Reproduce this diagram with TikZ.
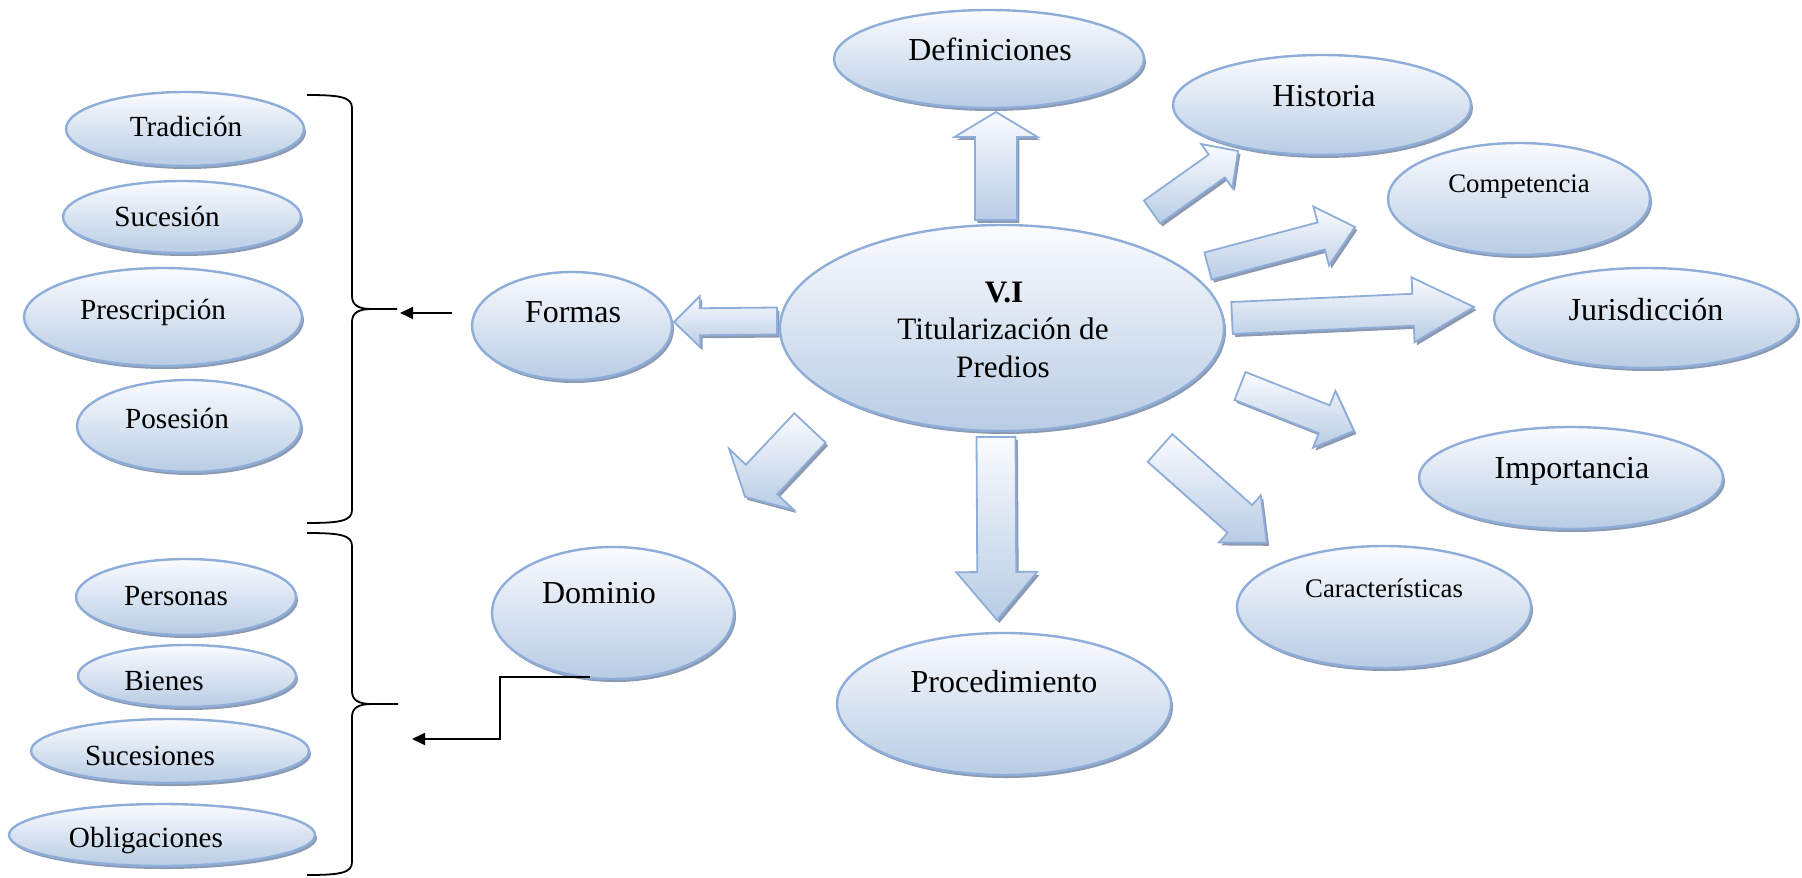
\documentclass[tikz,border=0pt]{standalone}
\usepackage{fontspec}
\setmainfont{Liberation Serif}
\usetikzlibrary{shapes.geometric,shadows,arrows.meta}

\definecolor{edgeblue}{RGB}{143,173,217}
\definecolor{fillTop}{RGB}{250,251,254}
\definecolor{fillBot}{RGB}{184,204,228}
\definecolor{shadowc}{RGB}{140,154,177}

\tikzset{
  bubble/.style={ellipse, draw=edgeblue, line width=1.2pt, top color=fillTop, bottom color=fillBot,
    inner sep=0pt, general shadow={fill=shadowc, shadow xshift=1pt, shadow yshift=-1.5pt}},
  txt/.style={anchor=base, inner sep=0pt, font=\fontsize{16}{18}\selectfont},
  txtleft/.style={txt, font=\fontsize{14.6}{17}\selectfont},
  txtsmall/.style={txt, font=\fontsize{13.4}{16}\selectfont},
  txtcore/.style={txt, font=\fontsize{15.6}{18}\selectfont},
  bodyarrow/.style={draw=edgeblue, line width=0.9pt, line join=miter, top color=fillTop, bottom color=fillBot},
  arrowshade/.style={fill=shadowc, transform canvas={shift={(1.2pt,-1.5pt)}}},
  brace/.style={draw=black, line width=0.9pt},
  link/.style={draw=black, line width=0.9pt, -{Triangle[length=6.5pt,width=6pt]}},
}

% block arrow: tail, tip, shaft width, head width, head length (pt)
\newcommand\blockarrow[5]{%
  \pgfpointanchor{#1}{center}\pgfgetlastxy{\bax}{\bay}%
  \pgfpointanchor{#2}{center}\pgfgetlastxy{\bbx}{\bby}%
  \pgfmathsetmacro\baang{atan2(\bby-\bay,\bbx-\bax)}%
  \pgfmathsetmacro\balen{veclen(\bbx-\bax,\bby-\bay)}%
  \pgfmathsetmacro\bab{\balen-#5}%
  \pgfmathsetmacro\baw{#3/2}%
  \pgfmathsetmacro\bah{#4/2}%
  \begin{scope}[shift={(#1)}, rotate=\baang]
    \coordinate (ba1) at (0pt,\baw pt);
    \coordinate (ba2) at (\bab pt,\baw pt);
    \coordinate (ba3) at (\bab pt,\bah pt);
    \coordinate (ba4) at (\balen pt,0pt);
    \coordinate (ba5) at (\bab pt,-\bah pt);
    \coordinate (ba6) at (\bab pt,-\baw pt);
    \coordinate (ba7) at (0pt,-\baw pt);
  \end{scope}
  \fill[arrowshade] (ba1) -- (ba2) -- (ba3) -- (ba4) -- (ba5) -- (ba6) -- (ba7) -- cycle;
  \path[bodyarrow] (ba1) -- (ba2) -- (ba3) -- (ba4) -- (ba5) -- (ba6) -- (ba7) -- cycle;
}

\begin{document}
\begin{tikzpicture}[x=0.5pt, y=-0.5pt]
\useasboundingbox (0,0) rectangle (1802,877);

% ---- block arrows around the central idea ----
\coordinate (def-t) at (996,220);   \coordinate (def-h) at (996,112);
\coordinate (for-t) at (777,321);   \coordinate (for-h) at (674,322);
\coordinate (his-t) at (1152,212);  \coordinate (his-h) at (1238,151);
\coordinate (com-t) at (1208,266);  \coordinate (com-h) at (1355,227);
\coordinate (jur-t) at (1232,318);  \coordinate (jur-h) at (1474,307);
\coordinate (imp-t) at (1240,386);  \coordinate (imp-h) at (1354,431);
\coordinate (car-t) at (1160,448);  \coordinate (car-h) at (1267,543);
\coordinate (pro-t) at (996,437);   \coordinate (pro-h) at (997,620);
\coordinate (dom-t) at (810,428);   \coordinate (dom-h) at (745,497);

\blockarrow{def-t}{def-h}{21}{41.5}{12.5}
\blockarrow{for-t}{for-h}{13.5}{25.5}{13}
\blockarrow{his-t}{his-h}{14}{27}{13}
\blockarrow{com-t}{com-h}{14}{30.5}{17.5}
\blockarrow{jur-t}{jur-h}{16}{32.5}{30.5}
\blockarrow{imp-t}{imp-h}{15}{30.5}{16}
\blockarrow{car-t}{car-h}{18.5}{31.5}{18}
\blockarrow{pro-t}{pro-h}{19.5}{40.5}{24}
\blockarrow{dom-t}{dom-h}{21.5}{44.5}{12}

% ---- ellipses ----
\node[bubble, minimum width=119pt, minimum height=37pt] (trad) at (185,129) {};
\node[bubble, minimum width=119pt, minimum height=36pt] (suc)  at (182,217) {};
\node[bubble, minimum width=139pt, minimum height=49pt] (pres) at (163,317) {};
\node[bubble, minimum width=112pt, minimum height=46pt] (pos)  at (189,426) {};
\node[bubble, minimum width=110pt, minimum height=38pt] (pers) at (186,597) {};
\node[bubble, minimum width=109pt, minimum height=31pt] (bien) at (187,676) {};
\node[bubble, minimum width=139pt, minimum height=32pt] (sucs) at (170,751) {};
\node[bubble, minimum width=153pt, minimum height=31pt] (obl)  at (162,835) {};
\node[bubble, minimum width=121pt, minimum height=66pt] (dom)  at (613,613) {};
\node[bubble, minimum width=100pt, minimum height=54pt] (formas) at (572,326) {};
\node[bubble, minimum width=222pt, minimum height=103pt] (core) at (1002,328) {};
\node[bubble, minimum width=155pt, minimum height=49pt] (def)  at (989,59) {};
\node[bubble, minimum width=149pt, minimum height=50pt] (hist) at (1322,105) {};
\node[bubble, minimum width=131pt, minimum height=56pt] (comp) at (1519,199) {};
\node[bubble, minimum width=152pt, minimum height=50pt] (jur)  at (1646,318) {};
\node[bubble, minimum width=152pt, minimum height=51pt] (imp)  at (1571,478) {};
\node[bubble, minimum width=147pt, minimum height=61pt] (car)  at (1384,607) {};
\node[bubble, minimum width=167pt, minimum height=71pt] (proc) at (1004,704) {};

% ---- labels ----
\node[txtleft] (t-trad) at (186,137) {Tradición};
\node[txtleft] (t-suc)  at (167,227) {Sucesión};
\node[txtleft] (t-pres) at (153,319) {Prescripción};
\node[txtleft] (t-pos)  at (177,428) {Posesión};
\node[txtleft] (t-pers) at (176,605) {Personas};
\node[txtleft] (t-bien) at (164,690) {Bienes};
\node[txtleft] (t-sucs) at (150,765) {Sucesiones};
\node[txtleft] (t-obl)  at (146,847) {Obligaciones};
\node[txt] (t-dom)    at (599,603) {Dominio};
\node[txt] (t-formas) at (573,322) {Formas};
\node[txtcore] (t-vi)  at (1004,302) {\textbf{V.I}};
\node[txtcore] (t-tit) at (1003,339) {Titularización de};
\node[txtcore] (t-pre) at (1003,377) {Predios};
\node[txt] (t-def)  at (990,61) {Definiciones};
\node[txt] (t-hist) at (1324,107) {Historia};
\node[txtsmall] (t-comp) at (1519,193) {Competencia};
\node[txt] (t-jur)  at (1646,320) {Jurisdicción};
\node[txt] (t-imp)  at (1572,478) {Importancia};
\node[txtsmall] (t-car) at (1384,597) {Características};
\node[txt] (t-proc) at (1004,692) {Procedimiento};

% ---- braces grouping the sub-items ----
\path[brace] (307,95) .. controls (340,95) and (352,97) .. (352,108) -- (352,296)
  .. controls (352,305) and (358,309) .. (372,309) -- (397,309);
\path[brace] (372,309) .. controls (358,309) and (352,313) .. (352,322) -- (352,510)
  .. controls (352,521) and (340,523) .. (307,523);
\path[brace] (307,533) .. controls (340,533) and (352,535) .. (352,546) -- (352,691)
  .. controls (352,700) and (358,704) .. (372,704) -- (398,704);
\path[brace] (372,704) .. controls (358,704) and (352,708) .. (352,717) -- (352,862)
  .. controls (352,873) and (340,875) .. (307,875);

% ---- thin connectors to the braces ----
\coordinate (brace1-in) at (400,313);
\coordinate (brace2-in) at (412,739);
\draw[link] ([xshift=-9.5pt]formas.west |- brace1-in) -- (brace1-in);
\draw[link] ([xshift=-11.5pt,yshift=1.5pt]dom.south) -- ++(-90,0) |- (brace2-in);

\end{tikzpicture}
\end{document}
